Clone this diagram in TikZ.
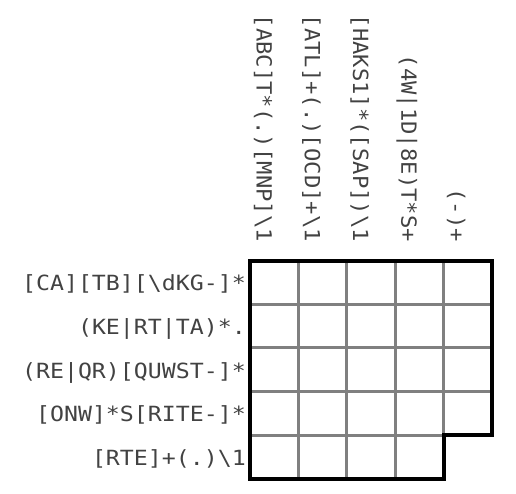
\documentclass[tikz,border=0pt]{standalone}
\usepackage{fontspec}
\newfontfamily\rowfont[FakeStretch=1.11]{DejaVu Sans Mono}
\newfontfamily\colfont[FakeStretch=1.06]{DejaVu Sans Mono}
\definecolor{txtgray}{HTML}{424242}
\definecolor{gridgray}{HTML}{808080}
\begin{document}
\begin{tikzpicture}[x=1bp,y=-1bp,
  lbl/.style={inner sep=0pt,text=txtgray},
  rowlbl/.style={lbl,anchor=base east,font=\rowfont\fontsize{21}{24}\selectfont},
  collbl/.style={lbl,anchor=base east,rotate=-90,font=\colfont\fontsize{21}{24}\selectfont},
  gridline/.style={draw=gridgray,line width=3bp},
  border/.style={draw=black,line width=4bp,line join=miter}]
\useasboundingbox (0,0) rectangle (516,494);
% grid coordinates
\def\xa{250.3}\def\xb{298.6}\def\xc{346.9}\def\xd{395.2}\def\xe{443.5}\def\xf{491.8}
\def\ya{260.5}\def\yb{304.2}\def\yc{347.9}\def\yd{391.6}\def\ye{435.3}\def\yf{479}
% inner gray lines
\draw[gridline] (\xb,\ya) -- (\xb,\yf);
\draw[gridline] (\xc,\ya) -- (\xc,\yf);
\draw[gridline] (\xd,\ya) -- (\xd,\yf);
\draw[gridline] (\xe,\ya) -- (\xe,\ye);
\draw[gridline] (\xa,\yb) -- (\xf,\yb);
\draw[gridline] (\xa,\yc) -- (\xf,\yc);
\draw[gridline] (\xa,\yd) -- (\xf,\yd);
\draw[gridline] (\xa,\ye) -- (\xe,\ye);
% outer border
\draw[border] (\xa,\ya) -- (\xf,\ya) -- (\xf,\ye) -- (\xe,\ye) -- (\xe,\yf) -- (\xa,\yf) -- cycle;
% row labels
\node[rowlbl] (r1) at (246,290.6) {[CA][TB][\textbackslash dKG-]*};
\node[rowlbl] (r2) at (246,334.3) {(KE|RT|TA)*.};
\node[rowlbl] (r3) at (246,378.0) {(RE|QR)[QUWST-]*};
\node[rowlbl] (r4) at (246,421.7) {[ONW]*S[RITE-]*};
\node[rowlbl] (r5) at (246,465.4) {[RTE]+(.)\textbackslash 1};
% column labels
\node[collbl] (c1) at (256.5,242) {[ABC]T*(.)[MNP]\textbackslash 1};
\node[collbl] (c2) at (304.8,242) {[ATL]+(.)[OCD]+\textbackslash 1};
\node[collbl] (c3) at (353.1,242) {[HAKS1]*([SAP])\textbackslash 1};
\node[collbl] (c4) at (401.4,242) {(4W|1D|8E)T*S+};
\node[collbl] (c5) at (449.7,242) {(-)+};
\end{tikzpicture}
\end{document}
